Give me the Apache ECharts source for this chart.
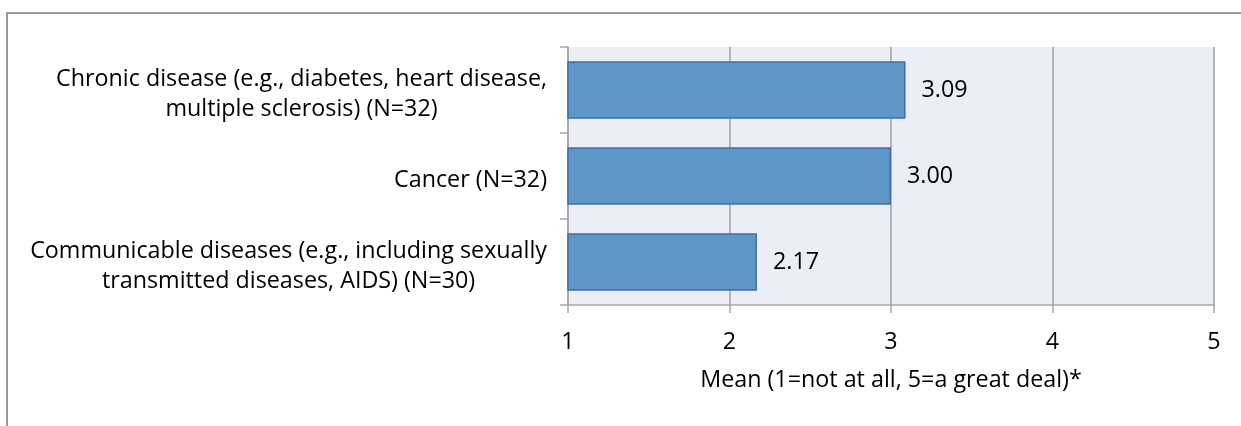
<!DOCTYPE html>
<html><head><meta charset="utf-8">
<script src="https://cdn.jsdelivr.net/npm/echarts@6/dist/echarts.min.js"></script>
<style>
html,body{margin:0;padding:0;background:#fff;}
#frame{position:absolute;left:6px;top:12px;width:1300px;height:500px;border-left:2px solid #9a9a9a;border-top:2px solid #9a9a9a;}
#chart{position:absolute;left:0;top:0;width:1241px;height:426px;}
</style></head>
<body>
<div id="frame"></div>
<div id="chart"></div>
<script>
const categories = [
  "Chronic disease (e.g., diabetes, heart disease,\nmultiple sclerosis) (N=32)",
  "Cancer (N=32)",
  "Communicable diseases (e.g., including sexually\ntransmitted diseases, AIDS) (N=30)"
];
const means = [3.09, 3.00, 2.17];
const xTicks = [1, 2, 3, 4, 5];
const xAxisTitle = "Mean (1=not at all, 5=a great deal)*";

const FONT = "Open Sans";
const FS = 23.3;
const chart = echarts.init(document.getElementById('chart'));
chart.setOption({
  animation: false,
  grid: {left: 568, right: 27, top: 47, bottom: 121, show: true, backgroundColor: '#EBEEF6', borderWidth: 0},
  xAxis: {
    type: 'value', min: xTicks[0], max: xTicks[xTicks.length-1], interval: 1,
    axisLine: {show: true, lineStyle: {color: '#A6A6A6', width: 1.5}},
    axisTick: {show: true, length: 8, lineStyle: {color: '#A6A6A6', width: 1.5}},
    splitLine: {show: true, lineStyle: {color: '#A0A0A0', width: 1.5}},
    axisLabel: {color: '#000', fontFamily: FONT, fontSize: FS, margin: 26},
    name: xAxisTitle, nameLocation: 'middle', nameGap: 64,
    nameTextStyle: {color: '#000', fontFamily: FONT, fontSize: FS}
  },
  yAxis: {
    type: 'category', data: categories, inverse: true,
    axisLine: {show: true, lineStyle: {color: '#A6A6A6', width: 1.5}},
    axisTick: {show: true, length: 8, lineStyle: {color: '#A6A6A6', width: 1.5}},
    splitLine: {show: false},
    axisLabel: {
      color: '#000', fontFamily: FONT, fontSize: FS, margin: 21, lineHeight: 30,
      padding: [8, 0, 0, 0],
      formatter: v => v.split('\n').map(l => '{c|' + l + '}').join('\n'),
      rich: {c: {align: 'center', color: '#000', fontFamily: FONT, fontSize: FS, lineHeight: 30}}
    }
  },
  series: [{
    type: 'bar', data: means, barCategoryGap: '33%',
    itemStyle: {color: '#5F96C8', borderColor: '#41709F', borderWidth: 1.5},
    label: {show: true, position: 'right', distance: 16, color: '#000', fontFamily: FONT, fontSize: FS,
      padding: [4, 0, 0, 0], formatter: p => p.value.toFixed(2)}
  }]
});
</script>
</body></html>
